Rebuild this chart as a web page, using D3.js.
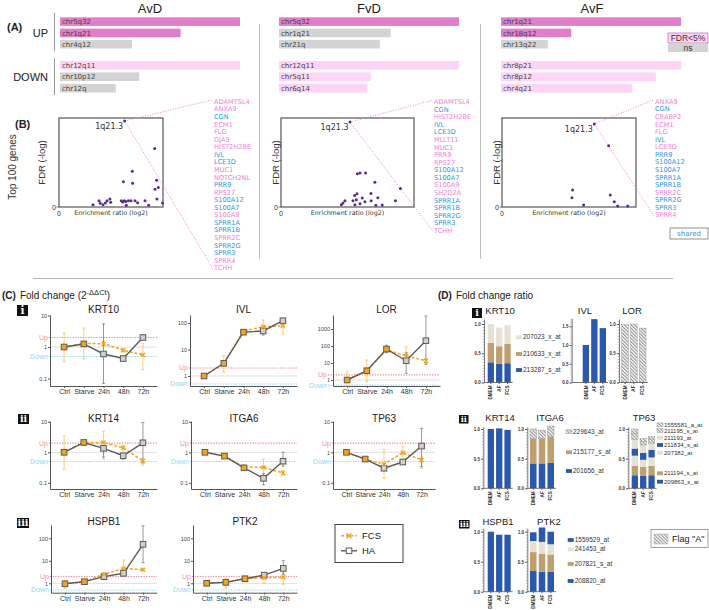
<!DOCTYPE html>
<html><head><meta charset="utf-8">
<script src="https://cdn.jsdelivr.net/npm/d3@7/dist/d3.min.js"></script>
<style>body{margin:0;background:#fff}svg{display:block;font-family:"Liberation Sans",Arial,sans-serif}</style>
</head><body><script>
// ================= DATA =================
// Panel A
const aTitles = ["AvD","FvD","AvF"];
const aUpRegions = [["chr5q32","chr1q21","chr4q12"],["chr5q32","chr1q21","chr21q"],["chr1q21","chr18q12","chr13q22"]];
const aUpRatio = [[1.0,0.67,0.40],[1.0,0.62,0.56],[1.0,0.39,0.26]];
const aUpSig = [[1,1,0],[1,0,0],[1,1,0]];
const aDownRegions = [["chr12q11","chr10p12","chr12q"],["chr12q11","chr5q11","chr6q14"],["chr8p21","chr8p12","chr4q21"]];
const aDownRatio = [[1.0,0.44,0.31],[1.0,0.51,0.49],[1.0,0.86,0.73]];
const aDownSig = [[1,0,0],[1,1,1],[1,1,1]];

// Panel B (enrichment ratio, FDR -log), first point = 1q21.3
const bAvDPoints = [[6.31,9.67],[9.20,6.58],[7.05,4.01],[6.19,2.83],[7.08,2.68],[9.39,3.01],[9.55,2.19],[9.23,2.00],[9.42,0.89],[9.95,0.45],
 [3.27,0.26],[3.85,0.71],[3.97,0.41],[4.23,0.26],[4.46,0.45],[4.62,0.71],[4.90,0.89],[4.97,0.52],[5.99,0.71],[6.12,0.56],[6.28,0.71],[6.41,0.63],[6.47,0.19],[6.67,0.71],[6.92,0.71],[7.31,0.71],[7.56,0.48],[8.27,0.71],[8.62,0.19]];
const bFvDPoints = [[5.19,9.55],[5.74,3.75],[5.94,3.83],[6.36,3.83],[7.06,2.79],[8.98,2.08],[6.76,1.52],[7.28,1.04],[8.60,0.71],[5.71,1.49],[5.54,1.30],[6.11,1.00],[5.41,0.71],[5.66,0.82],[6.31,0.59],[6.78,0.71],[4.81,0.71],[4.66,0.45],[4.54,0.26],[5.94,0.37],[5.56,0.26],[7.13,0.19],[7.61,0.22]];
const bAvFPoints = [[6.89,9.33],[7.96,6.88],[5.27,1.90],[5.22,1.04],[8.08,1.34],[8.38,0.59],[6.09,0.22],[8.63,0.11],[9.38,0.11]];
const bHighlight = "1q21.3";
const bAvDGenes = ["ADAMTSL4","ANXA9","CGN","ECM1","FLG","GJA5","HIST2H2BE","IVL","LCE3D","MUC1","NOTCH2NL","PRR9","RPS27","S100A12","S100A7","S100A9","SPRR1A","SPRR1B","SPRR2C","SPRR2G","SPRR3","SPRR4","TCHH"];
const bAvDShared = ["CGN","IVL","LCE3D","PRR9","S100A12","S100A7","SPRR1A","SPRR1B","SPRR2G","SPRR3"];
const bFvDGenes = ["ADAMTSL4","CGN","HIST2H2BE","IVL","LCE3D","MLLT11","MUC1","PRR9","RPS27","S100A12","S100A7","S100A9","SH2D2A","SPRR1A","SPRR1B","SPRR2G","SPRR3","TCHH"];
const bFvDShared = ["CGN","IVL","LCE3D","S100A12","S100A7","SPRR1A","SPRR1B","SPRR2G","SPRR3"];
const bAvFGenes = ["ANXA9","CGN","CRABP2","ECM1","FLG","IVL","LCE3D","PRR9","S100A12","S100A7","SPRR1A","SPRR1B","SPRR2C","SPRR2G","SPRR3","SPRR4"];
const bAvFShared = ["CGN","IVL","PRR9","S100A12","S100A7","SPRR1A","SPRR1B","SPRR2G","SPRR3"];

// Panel C (fold change 2^-ddCt)
const cTimepoints = ["Ctrl","Starve","24h","48h","72h"];
const cGenes = ["KRT10","IVL","LOR","KRT14","ITGA6","TP63","HSPB1","PTK2"];
const cUpThreshold = 2, cDownThreshold = 0.5;
const cHAMean = [[1,1.25,0.6,0.43,2.0],[1,3.0,45,50,122],[1,3.5,66,13.6,205],[1,2.1,1.35,0.77,2.05],[1,0.75,0.31,0.14,0.51],[1,0.6,0.3,0.48,1.6],[0.95,1.18,1.97,2.78,54],[1,1.1,1.6,2.3,4.6]];
const cHALow  = [[1,1.1,0.07,0.38,1.8],[1,2.5,40,35,110],[1,3,40,2.5,8.4],[1,1.9,0.7,0.6,0.45],[1,0.7,0.28,0.085,0.35],[1,0.55,0.27,0.42,0.34],[0.9,1.1,1.8,2.5,8.2],[1,1.0,1.5,2.1,2.5]];
const cHAHigh = [[1,1.4,5.4,0.5,2.2],[1,3.5,50,60,135],[1,4,110,40,5800],[1,2.3,1.6,0.9,9.5],[1,0.8,0.35,0.2,1.0],[1,0.65,0.34,0.55,6.1],[1,1.3,2.2,3.1,360],[1,1.2,1.7,2.5,10.1]];
const cFCSMean = [[1,1.3,1.27,0.79,0.56],[1,3.0,50,72,79],[1,3.5,60,26,13.6],[1,2.1,2.1,1.4,0.52],[1,0.75,0.33,0.32,0.21],[1,0.6,0.41,0.97,0.56],[0.95,1.18,2.5,4.6,4.0],[1,1.15,1.6,1.77,1.85]];
const cFCSLow  = [[0.34,0.42,1.05,0.7,0.19],[0.9,1.4,45,45,38],[0.45,0.8,45,12,9],[0.28,1.8,0.6,1.1,0.38],[1,0.7,0.28,0.2,0.18],[1,0.55,0.14,0.6,0.3],[0.6,1.1,2.2,2.2,3.6],[0.95,0.6,1.4,1.0,0.9]];
const cFCSHigh = [[2.8,4.0,1.55,0.9,1.3],[1.1,6,58,130,110],[3,15,90,91,18],[3.4,2.3,4.9,1.7,0.65],[1,0.8,0.38,0.6,0.25],[1,0.65,1.25,1.6,0.7],[1.4,1.3,2.8,10.8,4.4],[1.05,1.6,1.8,2.5,3.0]];
const cSeries = ["FCS","HA"];

// Panel D (fold change ratio, stacked probes bottom -> top)
const dConditions = ["DMEM","AF","FCS"];
const dKRT10Probes = ["213287_s_at","210633_x_at","207023_x_at"];
const dKRT10Values = [[0.345,0.32,0.33],[0.335,0.30,0.33],[0.32,0.32,0.32]];
const dIVLProbes = ["IVL"]; const dIVLValues = [[1.0,1.69,1.45]];
const dLORProbes = ["LOR"]; const dLORValues = [[0.99,1.0,0.93]];
const dKRT14Probes = ["KRT14"]; const dKRT14Values = [[1.0,1.01,0.985]];
const dITGA6Probes = ["201656_at","215177_s_at","229643_at"];
const dITGA6Values = [[0.42,0.42,0.43],[0.42,0.42,0.44],[0.16,0.14,0.18]];
const dTP63Probes = ["209863_s_at","211194_s_at","207382_at","211834_s_at","211193_at","211195_s_at","1555581_a_at"];
const dTP63Values = [[0.22,0.21,0.22],[0.16,0.15,0.16],[0.17,0.12,0.14],[0.12,0.12,0.13],[0.15,0.13,0.11],[0.10,0.06,0.06],[0.08,0.05,0.05]];
const dHSPB1Probes = ["HSPB1"]; const dHSPB1Values = [[1.0,0.95,0.95]];
const dPTK2Probes = ["208820_at","207821_s_at","241453_at","1559529_at"];
const dPTK2Values = [[0.345,0.335,0.335],[0.315,0.295,0.285],[0.185,0.20,0.17],[0.145,0.24,0.21]];
const dProbeKind = {"213287_s_at":"blue","210633_x_at":"tan","207023_x_at":"beige","IVL":"blue","LOR":"hatch","KRT14":"blue",
 "201656_at":"blue","215177_s_at":"tan","229643_at":"hatch","209863_s_at":"blue","211194_s_at":"tan","207382_at":"beige","211834_s_at":"blue",
 "211193_at":"beige","211195_s_at":"hatch","1555581_a_at":"hatch","HSPB1":"blue","208820_at":"blue","207821_s_at":"tan","241453_at":"beige","1559529_at":"blue"};

// ================= LAYOUT / STYLE =================
const LS='"Liberation Sans", Arial, sans-serif', DV='"DejaVu Sans", Verdana, sans-serif';
const colSigUp="#e07ec9", colSigDown="#fdd4f6", colNs="#d3d3d3";
const colPink="#ee80d6", colBlue="#2b97e0", colPurple="#5a2a90";
const colOrange="#f5a21c", colOrangeErr="#f8c25e", colGrayLine="#5a5a5a", colGrayErr="#7d7d7d";
const kindFill = {blue:"#2b58ad", tan:"#bf9f6e", beige:"#e6e1d5", hatch:"url(#hatch)"};

const svg = d3.select("body").append("svg").attr("width",709).attr("height",610);
const defs = svg.append("defs");
const pat = defs.append("pattern").attr("id","hatch").attr("patternUnits","userSpaceOnUse")
  .attr("width",2.4).attr("height",2.4).attr("patternTransform","rotate(-45)");
pat.append("rect").attr("width",2.4).attr("height",2.4).attr("fill","#fff");
pat.append("line").attr("x1",0.6).attr("y1",0).attr("x2",0.6).attr("y2",2.4).attr("stroke","#777").attr("stroke-width",0.9);

function txt(x,y,s,opt={}){
  const t=svg.append("text").attr("x",x).attr("y",y).text(s)
    .attr("font-size",opt.size||10).attr("font-family",opt.font||LS).attr("fill",opt.fill||"#222")
    .attr("text-anchor",opt.anchor||"start");
  if(opt.weight) t.attr("font-weight",opt.weight);
  if(opt.rotate!==undefined) t.attr("transform",`rotate(${opt.rotate},${x},${y})`);
  return t;
}
function line(x1,y1,x2,y2,stroke,w,dash){
  const l=svg.append("line").attr("x1",x1).attr("y1",y1).attr("x2",x2).attr("y2",y2).attr("stroke",stroke).attr("stroke-width",w||1);
  if(dash) l.attr("stroke-dasharray",dash);
  return l;
}
function icon(x,y,w,h,n){
  svg.append("rect").attr("x",x).attr("y",y).attr("width",w).attr("height",h).attr("fill","#111");
  txt(x+w/2,y+h-1.6,n,{size:h*0.95,font:'"DejaVu Serif", serif',weight:"bold",fill:"#fff",anchor:"middle"});
}

// ================= PANEL A =================
txt(7,31,"(A)",{size:11,weight:"bold"});
txt(48,37,"UP",{size:11,anchor:"end"});
txt(48,81,"DOWN",{size:11,anchor:"end"});
line(54.5,13,54.5,51.5,"#9a9a9a",1);
line(54.5,58,54.5,95,"#9a9a9a",1);
line(259.5,24,259.5,259,"#bdbdbd",1);
line(480.5,24,480.5,259,"#bdbdbd",1);
const aLayout=[{x0:60,tx:150},{x0:279,tx:369},{x0:501,tx:592}];
const aLen=d3.scaleLinear().domain([0,1]).range([0,180]);
const aUpY=d3.scaleLinear().domain([0,1]).range([21.6,32.9]);
const aDownY=d3.scaleLinear().domain([0,1]).range([65.2,76.7]);
aTitles.forEach((t,k)=>{
  const L=aLayout[k];
  txt(L.tx,13,t,{size:13,anchor:"middle"});
  [[aUpRegions[k],aUpRatio[k],aUpSig[k],aUpY,colSigUp],[aDownRegions[k],aDownRatio[k],aDownSig[k],aDownY,colSigDown]].forEach(([labs,vals,sig,ys,c])=>{
    const g=svg.append("g");
    g.selectAll("rect").data(vals).join("rect")
      .attr("x",L.x0).attr("y",(d,i)=>ys(i)-4.3).attr("width",d=>aLen(d)).attr("height",8.6)
      .attr("fill",(d,i)=>sig[i]?c:colNs);
    g.selectAll("text").data(labs).join("text")
      .attr("x",L.x0+2).attr("y",(d,i)=>ys(i)+2.6).text(d=>d)
      .attr("font-size",7).attr("font-family",DV).attr("fill","#444");
  });
});
// FDR legend
svg.append("rect").attr("x",668).attr("y",33).attr("width",40).attr("height",10).attr("fill",colSigDown).attr("stroke","#c77bbb").attr("stroke-width",0.8);
svg.append("rect").attr("x",668).attr("y",43).attr("width",40).attr("height",9).attr("fill",colNs);
txt(688,41.2,"FDR<5%",{size:8.5,anchor:"middle",fill:"#333"});
txt(688,50.6,"ns",{size:8.5,anchor:"middle",fill:"#333"});

// ================= PANEL B =================
txt(15,128,"(B)",{size:11,weight:"bold"});
txt(16,167,"Top 100 genes",{size:10,anchor:"middle",rotate:-90,fill:"#333"});
const bLayout=[
  {box:[59,163,118,207],listX:214,listY:103.8,ytx:45,pts:bAvDPoints,genes:bAvDGenes,shared:bAvDShared},
  {box:[281,414,118,207],listX:434,listY:104.2,ytx:279,pts:bFvDPoints,genes:bFvDGenes,shared:bFvDShared},
  {box:[502,636,118,207],listX:655,listY:103.8,ytx:500,pts:bAvFPoints,genes:bAvFGenes,shared:bAvFShared}];
bLayout.forEach(L=>{
  const [x0,x1,y0,y1]=L.box;
  const x=d3.scaleLinear().domain([0,10]).range([x0,x1]);
  const y=d3.scaleLinear().domain([0,10]).range([y1,y0]);
  const gy=d3.scaleLinear().domain([0,1]).range([L.listY,L.listY+7.57]);
  svg.append("rect").attr("x",x0).attr("y",y0).attr("width",x1-x0).attr("height",y1-y0).attr("fill","none").attr("stroke","#555").attr("stroke-width",1.2);
  txt(L.ytx,(y0+y1)/2,"FDR (-log)",{size:9.5,anchor:"middle",rotate:-90,fill:"#333"});
  line(x0-2.5,y(0),x0,y(0),"#555",0.8);
  txt(x0-3,y(0)+2.5,"0",{size:7,anchor:"end",fill:"#333"});
  txt(x(0),y1+9,"0",{size:7,anchor:"middle",fill:"#333"});
  txt((x0+x1)/2,y1+7.5,"Enrichment ratio (log2)",{size:6.3,font:DV,anchor:"middle",fill:"#333"});
  const hp=L.pts[0];
  const n=L.genes.length;
  line(x(hp[0]),y(hp[1]),L.listX-1,gy(0)-4,colPink,1,"1,1.6");
  line(x(hp[0]),y(hp[1]),L.listX-1,gy(n-1)-1.5,colPink,1,"1,1.6");
  svg.append("g").selectAll("circle").data(L.pts).join("circle")
    .attr("cx",d=>x(d[0])).attr("cy",d=>y(d[1])).attr("r",1.5).attr("fill",colPurple);
  txt(x(hp[0])-1.5,y(hp[1])+8,bHighlight,{size:8,font:DV,anchor:"end",fill:"#333"});
  svg.append("g").selectAll("text").data(L.genes).join("text")
    .attr("x",L.listX).attr("y",(d,i)=>gy(i)).text(d=>d)
    .attr("font-size",6.6).attr("font-family",DV)
    .attr("fill",d=>L.shared.includes(d)?colBlue:colPink);
});
svg.append("rect").attr("x",670).attr("y",228).attr("width",38).attr("height",11).attr("fill","#fff").attr("stroke","#777").attr("stroke-width",0.8);
txt(689,236.3,"shared",{size:7,font:DV,anchor:"middle",fill:colBlue});
line(33,278.5,673,278.5,"#b5b5b5",1);

// ================= PANEL C =================
const cHead=svg.append("text").attr("x",2).attr("y",299).attr("font-size",10).attr("font-family",LS).attr("fill","#222");
cHead.append("tspan").attr("font-weight","bold").text("(C)");
cHead.append("tspan").attr("dx",4).text("Fold change (2");
cHead.append("tspan").attr("dy",-4.5).attr("font-size",7.5).text("-ΔΔCt");
cHead.append("tspan").attr("dy",4.5).text(")");
icon(17,305,11,11,"i"); icon(18,414,11,10,"ii"); icon(17,518,12,10,"iii");
const rowI={yTop:315,yBot:386,titleY:313}, rowII={yTop:421,yBot:489,one:452.3,dec:30.5,titleY:421.5}, rowIII={yTop:525,yBot:592.7,one:583.3,dec:22.5,titleY:525};
const cLayout=[
  Object.assign({x0:50,x1:157,one:347,dec:31.5,ticks:[0.1,1,10],labDx:0},rowI),
  Object.assign({x0:190,x1:297,one:376,dec:26.5,ticks:[1,10,100],labDx:0},rowI),
  Object.assign({x0:333,x1:440,one:380,dec:17,ticks:[1,10,100,1000],labDx:-4},rowI),
  Object.assign({x0:50,x1:157,ticks:[0.1,1,10],labDx:0},rowII),
  Object.assign({x0:191,x1:297,ticks:[0.1,1,10],labDx:0},rowII),
  Object.assign({x0:333,x1:435,ticks:[0.1,1,10],labDx:0},rowII),
  Object.assign({x0:51,x1:157,ticks:[1,10,100],labDx:0},rowIII),
  Object.assign({x0:193,x1:297,ticks:[1,10,100],labDx:0},rowIII)];
function styleAxis(g,size,fill){
  g.select(".domain").attr("stroke","#555").attr("stroke-width",1);
  g.selectAll(".tick line").attr("stroke","#555");
  g.selectAll("text").attr("font-size",size).attr("fill",fill||"#333").attr("font-family",LS);
}
cGenes.forEach((gene,k)=>{
  const L=cLayout[k];
  const topV=Math.pow(10,(L.one-L.yTop)/L.dec), botV=Math.pow(10,(L.one-L.yBot)/L.dec);
  const y=d3.scaleLog().domain([botV,topV]).range([L.yBot,L.yTop]);
  const x=d3.scalePoint().domain(cTimepoints).range([L.x0,L.x1]).padding(0.715);
  txt((L.x0+L.x1)/2,L.titleY,gene,{size:10,anchor:"middle"});
  line(L.x0,y(1),L.x1,y(1),"#dedede",1);
  line(L.x0-1+L.labDx,y(cUpThreshold),L.x1,y(cUpThreshold),"#f18c8c",1.1,"1.3,1.3");
  line(L.x0-1+L.labDx,y(cDownThreshold),L.x1,y(cDownThreshold),"#8fdaf2",1.1,"1.3,1.3");
  txt(L.x0-2+L.labDx,y(cUpThreshold)+2.4,"Up",{size:7,anchor:"end",fill:"#f29595"});
  txt(L.x0-2+L.labDx,y(cDownThreshold)+2.4,"Down",{size:7,anchor:"end",fill:"#90d8f0"});
  const ya=svg.append("g").attr("transform",`translate(${L.x0},0)`)
    .call(d3.axisLeft(y).tickValues(L.ticks).tickSize(2).tickSizeOuter(0).tickPadding(1).tickFormat(d3.format("~g")));
  styleAxis(ya,5.5,"#444");
  const xa=svg.append("g").attr("transform",`translate(0,${L.yBot})`)
    .call(d3.axisBottom(x).tickSize(2).tickSizeOuter(0).tickPadding(1.5));
  styleAxis(xa,7,"#333");
  const g=svg.append("g");
  const ha=cTimepoints.map((t,i)=>({t,m:cHAMean[k][i],lo:cHALow[k][i],hi:cHAHigh[k][i],f:cFCSMean[k][i]}));
  const fc=cTimepoints.map((t,i)=>({t,m:cFCSMean[k][i],lo:cFCSLow[k][i],hi:cFCSHigh[k][i]}));
  const errs=(data,col)=>{
    data.forEach(d=>{
      if(Math.abs(d.hi-d.lo)<1e-9) return;
      g.append("line").attr("x1",x(d.t)).attr("x2",x(d.t)).attr("y1",y(d.lo)).attr("y2",y(d.hi)).attr("stroke",col).attr("stroke-width",0.8);
      [d.lo,d.hi].forEach(v=>g.append("line").attr("x1",x(d.t)-1.5).attr("x2",x(d.t)+1.5).attr("y1",y(v)).attr("y2",y(v)).attr("stroke",col).attr("stroke-width",0.8));
    });
  };
  errs(fc,colOrangeErr); errs(ha,colGrayErr);
  const ln=d3.line().x(d=>x(d.t)).y(d=>y(d.m));
  g.append("path").attr("d",ln(fc)).attr("fill","none").attr("stroke",colOrange).attr("stroke-width",1.5).attr("stroke-dasharray","3,1.8");
  g.append("path").attr("d",ln(ha)).attr("fill","none").attr("stroke",colGrayLine).attr("stroke-width",1.4);
  g.selectAll("rect.ha").data(ha).join("rect").attr("class","ha")
    .attr("x",d=>x(d.t)-2.8).attr("y",d=>y(d.m)-2.8).attr("width",5.6).attr("height",5.6)
    .attr("fill",d=>Math.abs(Math.log10(d.m/d.f))<0.06?colOrange:"#cfcfcf").attr("stroke",colGrayLine).attr("stroke-width",1);
  g.selectAll("path.fx").data(fc.filter((d,i)=>Math.abs(Math.log10(d.m/ha[i].m))>=0.06)).join("path").attr("class","fx")
    .attr("d",d=>`M${x(d.t)-2},${y(d.m)-2}L${x(d.t)+2},${y(d.m)+2}M${x(d.t)-2},${y(d.m)+2}L${x(d.t)+2},${y(d.m)-2}`)
    .attr("stroke",colOrange).attr("stroke-width",1.4);
});
// legend C
svg.append("rect").attr("x",335).attr("y",524.5).attr("width",68).attr("height",38).attr("fill","#fff").attr("stroke","#444").attr("stroke-width",1);
line(341,535.8,357,535.8,colOrange,1.5,"3,1.8");
svg.append("path").attr("d","M346.5,533.3L351.5,538.3M346.5,538.3L351.5,533.3").attr("stroke",colOrange).attr("stroke-width",1.4);
line(341,550.8,357,550.8,colGrayLine,1.4);
svg.append("rect").attr("x",346.2).attr("y",548).attr("width",5.6).attr("height",5.6).attr("fill","#fff").attr("stroke",colGrayLine).attr("stroke-width",1);
txt(362,539.3,cSeries[0],{size:9.5,fill:"#222"});
txt(362,554.3,cSeries[1],{size:9.5,fill:"#222"});

// ================= PANEL D =================
const dHead=svg.append("text").attr("x",438).attr("y",299).attr("font-size",10).attr("font-family",LS).attr("fill","#222");
dHead.append("tspan").attr("font-weight","bold").text("(D)");
dHead.append("tspan").attr("dx",4).text("Fold change ratio");
icon(472,308,10,10,"i"); icon(459,415,9.5,8.5,"ii"); icon(459,520,10.5,8.5,"iii");
const dRowI={y0:382.5,titleY:314}, dRowII={y0:488.3,top:426.7,ppu:59.3,titleY:421}, dRowIII={y0:591.7,top:528.3,ppu:60,titleY:525};
const dLayout=[
  Object.assign({gene:"KRT10",ax:484,ppu:58.5,top:319,band:[487.7,510.7],ticks:[0,0.5,1],titleX:500,legX:516,legY:[337.3,354,370],legend:["207023_x_at","210633_x_at","213287_s_at"],legSize:6.5},dRowI),
  Object.assign({gene:"IVL",ax:571.7,ppu:37.5,top:318.3,band:[582.7,606],ticks:[0,0.5,1,1.5],titleX:585},dRowI),
  Object.assign({gene:"LOR",ax:619,ppu:58.5,top:319,band:[621.7,646],ticks:[0,0.5,1],titleX:632},dRowI),
  Object.assign({gene:"KRT14",ax:483.3,band:[487.7,510.7],ticks:[0,0.5,1],titleX:500},dRowII),
  Object.assign({gene:"ITGA6",ax:527.3,band:[530,554],ticks:[0,0.5,1],titleX:550,legX:566,legY:[431.7,452.3,471],legend:["229643_at","215177_s_at","201656_at"],legSize:6.5},dRowII),
  Object.assign({gene:"TP63",ax:628.3,band:[631.7,654.7],ticks:[0,0.5,1],titleX:644,legX:657,legY:[424.8,430.6,437.7,445,452.7,473.3,481.7],legend:["1555581_a_at","211195_s_at","211193_at","211834_s_at","207382_at","211194_s_at","209863_s_at"],legSize:6},dRowII),
  Object.assign({gene:"HSPB1",ax:483.3,band:[487.7,510.7],ticks:[0,0.5,1],titleX:498},dRowIII),
  Object.assign({gene:"PTK2",ax:527.3,band:[530,554],ticks:[0,0.5,1],titleX:549,legX:567.7,legY:[540,549.3,564,581],legend:["1559529_at","241453_at","207821_s_at","208820_at"],legSize:6.5},dRowIII)];
const dProbes=[dKRT10Probes,dIVLProbes,dLORProbes,dKRT14Probes,dITGA6Probes,dTP63Probes,dHSPB1Probes,dPTK2Probes];
const dValues=[dKRT10Values,dIVLValues,dLORValues,dKRT14Values,dITGA6Values,dTP63Values,dHSPB1Values,dPTK2Values];
dLayout.forEach((L,k)=>{
  const probes=dProbes[k], vals=dValues[k];
  const topV=(L.y0-L.top)/L.ppu;
  const y=d3.scaleLinear().domain([0,topV]).range([L.y0,L.top]);
  const x=d3.scaleBand().domain(dConditions).range(L.band).paddingInner(0.25);
  txt(L.titleX,L.titleY,L.gene,{size:9.5,anchor:"middle"});
  const rows=dConditions.map((c,i)=>{const o={cond:c};probes.forEach((p,j)=>o[p]=vals[j][i]);return o;});
  const series=d3.stack().keys(probes)(rows);
  const g=svg.append("g");
  series.forEach((s,j)=>{
    const kind=dProbeKind[probes[j]];
    g.selectAll(null).data(s).join("rect")
      .attr("x",d=>x(d.data.cond)).attr("y",d=>y(d[1])).attr("width",x.bandwidth()).attr("height",d=>y(d[0])-y(d[1]))
      .attr("fill",kindFill[kind]).attr("stroke",kind==="hatch"?"#9a9a9a":"none").attr("stroke-width",0.5);
  });
  const minor=svg.append("g").attr("transform",`translate(${L.ax},0)`)
    .call(d3.axisLeft(y).tickValues(d3.range(0,topV+1e-9,0.05)).tickSize(1.2).tickFormat(""));
  minor.select(".domain").remove(); minor.selectAll(".tick line").attr("stroke","#666").attr("stroke-width",0.5);
  const ya=svg.append("g").attr("transform",`translate(${L.ax},0)`)
    .call(d3.axisLeft(y).tickValues(L.ticks).tickSize(2.2).tickSizeOuter(0).tickPadding(1).tickFormat(d3.format(".1f")));
  styleAxis(ya,4.5,"#333"); ya.select(".domain").attr("stroke-width",0.8);
  ya.selectAll("text").attr("font-weight","bold");
  const xa=svg.append("g").attr("transform",`translate(0,${L.y0})`)
    .call(d3.axisBottom(x).tickSize(1.5).tickSizeOuter(0).tickPadding(1));
  xa.select(".domain").attr("d",`M${L.ax},0H${L.band[1]+2}`).attr("stroke","#555").attr("stroke-width",0.8);
  xa.selectAll(".tick line").attr("stroke","#555");
  xa.selectAll("text").attr("font-size",4.6).attr("font-weight","bold").attr("fill","#333")
    .attr("text-anchor","end").attr("dy","0.35em").attr("y",0)
    .attr("transform","translate(0,3) rotate(-90)");
  if(L.legend){
    L.legend.forEach((p,i)=>{
      const kind=dProbeKind[p];
      svg.append("rect").attr("x",L.legX).attr("y",L.legY[i]-1.9).attr("width",6).attr("height",3.8)
        .attr("fill",kindFill[kind]).attr("stroke",kind==="hatch"?"#9a9a9a":"none").attr("stroke-width",0.5);
      txt(L.legX+7,L.legY[i]+2.1,p,{size:L.legSize,fill:"#333"});
    });
  }
});
// Flag "A" legend
svg.append("rect").attr("x",651).attr("y",529.5).attr("width",57).attr("height",18).attr("fill","#fff").attr("stroke","#888").attr("stroke-width",0.8);
svg.append("rect").attr("x",654).attr("y",534).attr("width",14).attr("height",10).attr("fill","url(#hatch)").attr("stroke","#aaa").attr("stroke-width",0.5);
txt(672,541.8,'Flag "A"',{size:9,fill:"#222"});
</script></body></html>
